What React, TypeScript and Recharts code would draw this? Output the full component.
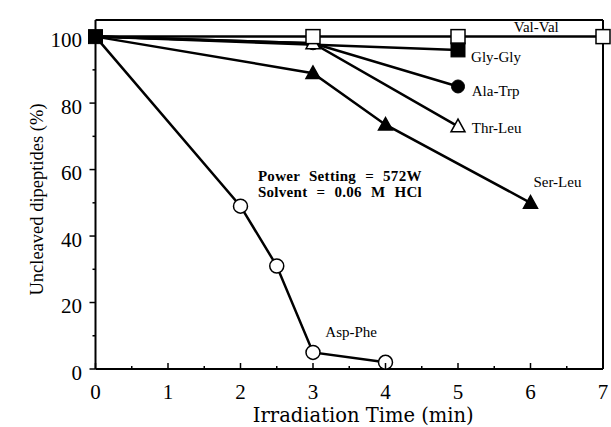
import React from 'react';
import { LineChart, Line, XAxis, YAxis, ReferenceLine, ReferenceDot, Label } from 'recharts';

const valVal = [
  { t: 0, v: 100 },
  { t: 3, v: 100 },
  { t: 5, v: 100 },
  { t: 7, v: 100 },
];
const glyGly = [
  { t: 0, v: 100 },
  { t: 5, v: 96 },
];
const alaTrp = [
  { t: 0, v: 100 },
  { t: 3, v: 98 },
  { t: 5, v: 85 },
];
const thrLeu = [
  { t: 0, v: 100 },
  { t: 3, v: 98 },
  { t: 5, v: 73 },
];
const serLeu = [
  { t: 0, v: 100 },
  { t: 3, v: 89 },
  { t: 4, v: 73.5 },
  { t: 6, v: 50 },
];
const aspPhe = [
  { t: 0, v: 100 },
  { t: 2, v: 49 },
  { t: 2.5, v: 31 },
  { t: 3, v: 5 },
  { t: 4, v: 2 },
];

const xTicks = [0, 0.5, 1, 1.5, 2, 2.5, 3, 3.5, 4, 4.5, 5, 5.5, 6, 6.5, 7];
const yTicks = [0, 10, 20, 30, 40, 50, 60, 70, 80, 90, 100];

const seriesLabels = [
  { text: 'Val-Val', t: 6.08, v: 102.9, anchor: 'middle' },
  { text: 'Gly-Gly', t: 5.18, v: 94.0, anchor: 'start' },
  { text: 'Ala-Trp', t: 5.19, v: 83.6, anchor: 'start' },
  { text: 'Thr-Leu', t: 5.19, v: 72.5, anchor: 'start' },
  { text: 'Ser-Leu', t: 6.04, v: 56.2, anchor: 'start' },
  { text: 'Asp-Phe', t: 3.17, v: 11.0, anchor: 'start' },
];
const noteLines = [
  { text: 'Power Setting = 572W', t: 2.24, v: 58.0 },
  { text: 'Solvent = 0.06 M HCl', t: 2.24, v: 53.2 },
];

const SERIF = '"Liberation Serif", "Times New Roman", serif';

const XTick = (props: any) => {
  const { x, y, payload } = props;
  const v = payload.value;
  const major = Number.isInteger(v);
  return (
    <g>
      <line x1={x} x2={x} y1={y} y2={y - (major ? 6 : 3)} stroke="#000" strokeWidth={1.5} />
      {major && (
        <text x={x} y={y + 30} textAnchor="middle" fontSize={21} fontFamily={SERIF} fill="#000">
          {v}
        </text>
      )}
    </g>
  );
};

const YTick = (props: any) => {
  const { x, y, payload } = props;
  const v = payload.value;
  const major = v % 20 === 0;
  return (
    <g>
      <line x1={x} x2={x - (major ? 6 : 3)} y1={y} y2={y} stroke="#000" strokeWidth={1.5} />
      {major && (
        <text x={x - 13.5} y={y + 10.5} textAnchor="end" fontSize={21} fontFamily={SERIF} fill="#000">
          {v}
        </text>
      )}
    </g>
  );
};

const openSquare = (hideFirst: boolean) => (p: any) => {
  const { cx, cy, index } = p;
  if (hideFirst && index === 0) return <g key={`vs${index}`} />;
  return <rect key={`vs${index}`} x={cx - 7} y={cy - 7} width={14} height={14} fill="#fff" stroke="#000" strokeWidth={1.5} />;
};
const filledSquare = (p: any) => {
  const { cx, cy, index } = p;
  return <rect key={`fs${index}`} x={cx - 7} y={cy - 7} width={14} height={14} fill="#000" stroke="#000" strokeWidth={1} />;
};
const filledCircle = (p: any) => {
  const { cx, cy, index } = p;
  if (index === 0) return <g key={`fc${index}`} />;
  return <circle key={`fc${index}`} cx={cx} cy={cy} r={6.5} fill="#000" stroke="#000" />;
};
const openCircle = (p: any) => {
  const { cx, cy, index } = p;
  if (index === 0) return <g key={`oc${index}`} />;
  return <circle key={`oc${index}`} cx={cx} cy={cy} r={7} fill="#fff" stroke="#000" strokeWidth={1.5} />;
};
const triangle = (filled: boolean) => (p: any) => {
  const { cx, cy, index } = p;
  if (index === 0) return <g key={`tr${index}`} />;
  const h = 12;
  const w = 14;
  const pts = `${cx},${cy - h * 0.6} ${cx - w / 2},${cy + h * 0.45} ${cx + w / 2},${cy + h * 0.45}`;
  return <polygon key={`tr${index}`} points={pts} fill={filled ? '#000' : '#fff'} stroke="#000" strokeWidth={1.5} />;
};

const TextAt = (text: string, anchor: string, size: number, bold = false, extra: any = {}) => (p: any) => (
  <text
    x={p.cx}
    y={p.cy}
    textAnchor={anchor}
    dominantBaseline="central"
    fontSize={size}
    fontFamily={SERIF}
    fontWeight={bold ? 'bold' : 'normal'}
    fill="#000"
    {...extra}
  >
    {text}
  </text>
);

export default function App() {
  const lineProps = {
    type: 'linear' as const,
    dataKey: 'v',
    stroke: '#000',
    strokeWidth: 2.5,
    isAnimationActive: false,
  };
  return (
    <div style={{ position: 'absolute', left: 0, top: 0, background: '#fff' }}>
      <LineChart width={611} height={427} margin={{ top: 20, right: 8, bottom: 0, left: 0 }}>
        <XAxis
          dataKey="t"
          type="number"
          domain={[0, 7]}
          ticks={xTicks}
          interval={0}
          allowDuplicatedCategory={false}
          height={58}
          tickSize={0}
          tickMargin={0}
          tickLine={false}
          tick={<XTick />}
          axisLine={{ stroke: '#000', strokeWidth: 2 }}
        >
          <Label
            content={(props: any) => {
              const vb = props.viewBox;
              return (
                <text
                  x={vb.x + vb.width / 2 + 14}
                  y={422}
                  textAnchor="middle"
                  fontSize={19.5}
                  fontFamily='"DejaVu Serif", serif'
                  fill="#000"
                >
                  Irradiation Time (min)
                </text>
              );
            }}
          />
        </XAxis>
        <YAxis
          type="number"
          domain={[0, 105]}
          ticks={yTicks}
          interval={0}
          width={95.5}
          tickSize={0}
          tickMargin={0}
          tickLine={false}
          tick={<YTick />}
          axisLine={{ stroke: '#000', strokeWidth: 2 }}
        >
          <Label
            content={(props: any) => {
              const vb = props.viewBox;
              const cy = vb.y + vb.height / 2 + 5;
              return (
                <text
                  x={43}
                  y={cy}
                  transform={`rotate(-90, 43, ${cy})`}
                  textAnchor="middle"
                  fontSize={18.5}
                  fontFamily={SERIF}
                  fill="#000"
                >
                  Uncleaved dipeptides (%)
                </text>
              );
            }}
          />
        </YAxis>
        <ReferenceLine y={105} stroke="#000" strokeWidth={2} />
        <ReferenceLine x={7} stroke="#000" strokeWidth={2} />

        <Line {...lineProps} data={aspPhe} name="Asp-Phe" dot={openCircle} />
        <Line {...lineProps} data={serLeu} name="Ser-Leu" dot={triangle(true)} />
        <Line {...lineProps} data={alaTrp} name="Ala-Trp" dot={filledCircle} />
        <Line {...lineProps} data={thrLeu} name="Thr-Leu" dot={triangle(false)} />
        <Line {...lineProps} data={valVal} name="Val-Val" dot={openSquare(true)} />
        <Line {...lineProps} data={glyGly} name="Gly-Gly" dot={filledSquare} />

        {seriesLabels.map((s) => (
          <ReferenceDot key={s.text} x={s.t} y={s.v} r={1} shape={TextAt(s.text, s.anchor, 15)} />
        ))}
        {noteLines.map((s) => (
          <ReferenceDot
            key={s.text}
            x={s.t}
            y={s.v}
            r={1}
            shape={TextAt(s.text, 'start', 15, true, { wordSpacing: 5, letterSpacing: 0.3 })}
          />
        ))}
      </LineChart>
    </div>
  );
}
